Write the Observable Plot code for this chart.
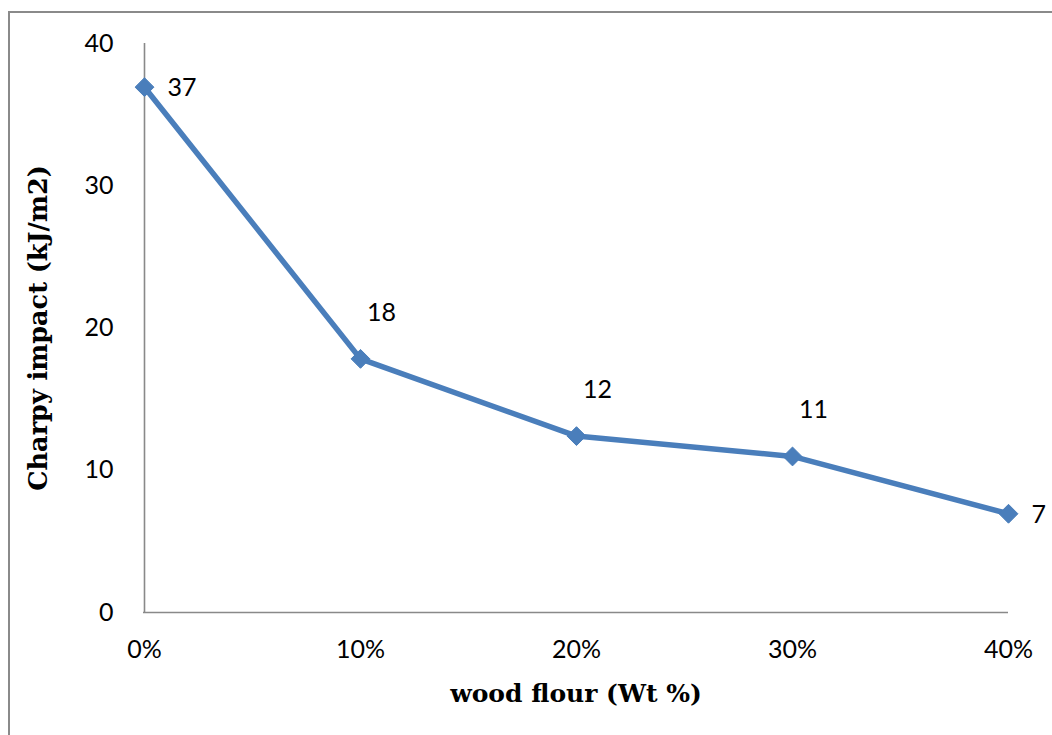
<!DOCTYPE html>
<html>
<head>
<meta charset="utf-8">
<script src="https://cdn.jsdelivr.net/npm/d3@7"></script>
<script src="https://cdn.jsdelivr.net/npm/@observablehq/plot@0.6"></script>
<style>
  html, body { margin: 0; padding: 0; background: #fff; }
  #wrap { position: relative; width: 1052px; height: 735px; overflow: hidden; }
  #frame { position: absolute; left: 8px; top: 11px; width: 1100px; height: 800px; border: 2px solid #8a8a8a; box-sizing: border-box; }
  #chart { position: absolute; left: 0; top: 0; }
</style>
</head>
<body>
<div id="wrap"><div id="frame"></div><div id="chart"></div></div>
<script>
const categories = ["0%", "10%", "20%", "30%", "40%"];
const charpy = [36.93, 17.83, 12.4, 10.97, 6.94];
const yTicks = [0, 10, 20, 30, 40];
const xTitle = "wood flour (Wt %)";
const yTitle = "Charpy impact (kJ/m2)";

const rows = categories.map((c, i) => ({cat: c, value: charpy[i], idx: i}));
const fmt = d3.format(".0f");
const blue = "#4a7ebb";
const axisGray = "#898989";

const chart = Plot.plot({
  width: 1052,
  height: 735,
  marginLeft: 143,
  marginRight: 44,
  marginTop: 43,
  marginBottom: 123,
  style: {background: "transparent", fontFamily: "Lato, 'Open Sans', sans-serif", fontSize: "25px", color: "#000", overflow: "visible"},
  x: {type: "point", domain: categories, padding: 0, axis: null},
  y: {domain: [0, 40], axis: null},
  marks: [
    Plot.ruleX([categories[0]], {stroke: axisGray, strokeWidth: 1.6}),
    Plot.ruleY([0], {stroke: axisGray, strokeWidth: 1.6}),
    Plot.axisY({ticks: yTicks, tickSize: 0, tickPadding: 30, fontSize: 25, label: null}),
    Plot.axisX({tickSize: 0, tickPadding: 28, fontSize: 25, label: null}),
    Plot.line(rows, {x: "cat", y: "value", stroke: blue, strokeWidth: 5.5, strokeLinejoin: "round"}),
    Plot.dot(rows, {x: "cat", y: "value", symbol: "diamond2", r: 8.5, fill: blue, stroke: blue, strokeWidth: 1}),
    Plot.text(rows.filter(d => d.idx === 0 || d.idx === rows.length - 1), {x: "cat", y: "value", text: d => fmt(d.value), textAnchor: "start", dx: 23, dy: 1, fontSize: 25, fill: "#000"}),
    Plot.text(rows.filter(d => d.idx > 0 && d.idx < rows.length - 1), {x: "cat", y: "value", text: d => fmt(d.value), textAnchor: "middle", dx: 21, dy: -46, fontSize: 25, fill: "#000"}),
    Plot.text([xTitle], {frameAnchor: "bottom", dy: 81, textAnchor: "middle", lineAnchor: "middle", text: d => d, fontFamily: "'DejaVu Serif', serif", fontWeight: "bold", fontSize: 25, fill: "#000"}),
    Plot.text([yTitle], {frameAnchor: "left", dx: -105, rotate: -90, textAnchor: "middle", lineAnchor: "middle", text: d => d, fontFamily: "'DejaVu Serif', serif", fontWeight: "bold", fontSize: 25.5, fill: "#000"})
  ]
});
document.getElementById("chart").appendChild(chart);
</script>
</body>
</html>
